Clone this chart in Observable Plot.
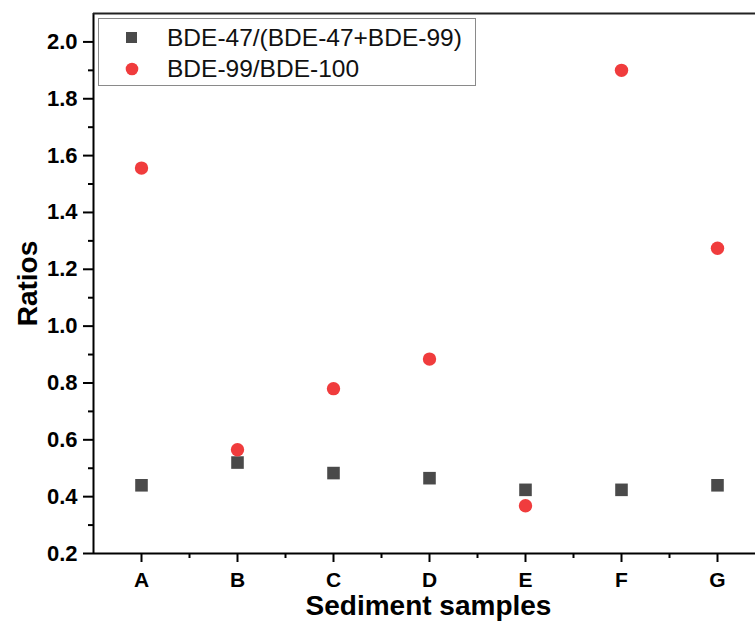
<!DOCTYPE html>
<html>
<head>
<meta charset="utf-8">
<script src="https://cdn.jsdelivr.net/npm/d3@7"></script>
<script src="https://cdn.jsdelivr.net/npm/@observablehq/plot@0.6"></script>
<style>
  body { margin: 0; background: #fff; }
  #wrap { position: relative; width: 755px; height: 628px; font-family: "Liberation Sans", Arial, sans-serif; }
  #legend { position: absolute; left: 98px; top: 18px; width: 376px; height: 66px; border: 1px solid #8a8a8a; background: #fff; }
  .row { position: absolute; left: 0; height: 30px; display: flex; align-items: center; font-size: 24.5px; color: #111; }
  .sym { width: 66px; display: flex; justify-content: center; align-items: center; }
</style>
</head>
<body>
<div id="wrap"></div>
<script>
const categories = ["A", "B", "C", "D", "E", "F", "G"];
const seriesNames = ["BDE-47/(BDE-47+BDE-99)", "BDE-99/BDE-100"];
const ratio47 = [0.44, 0.52, 0.483, 0.465, 0.424, 0.424, 0.44];
const ratio99 = [1.556, 0.565, 0.78, 0.884, 0.368, 1.90, 1.274];
const yTicks = [0.2, 0.4, 0.6, 0.8, 1.0, 1.2, 1.4, 1.6, 1.8, 2.0];
const yMinor = [0.3, 0.5, 0.7, 0.9, 1.1, 1.3, 1.5, 1.7, 1.9];
const xTicks = [1, 2, 3, 4, 5, 6, 7];
const xMinor = [1.5, 2.5, 3.5, 4.5, 5.5, 6.5];
const colors = ["#4a4a4a", "#f03c3d"];

const data47 = categories.map((c, i) => ({pos: i + 1, value: ratio47[i]}));
const data99 = categories.map((c, i) => ({pos: i + 1, value: ratio99[i]}));

const font = '"Liberation Sans", Arial, sans-serif';
const chart = Plot.plot({
  width: 755,
  height: 628,
  marginLeft: 93,
  marginRight: 0,
  marginTop: 13,
  marginBottom: 75,
  style: {fontFamily: font, color: "#000", background: "#fff", overflow: "visible"},
  x: {type: "linear", domain: [0.5, 7.5], range: [93, 765]},
  y: {domain: [0.2, 2.1]},
  marks: [
    Plot.axisY({ticks: yTicks, tickSize: 10, text: null, label: null, strokeWidth: 2}),
    Plot.axisY({ticks: yMinor, tickSize: 5, text: null, label: null, strokeWidth: 2}),
    Plot.axisX({ticks: xTicks, tickSize: 9, text: null, label: null, strokeWidth: 2}),
    Plot.axisX({ticks: xMinor, tickSize: 5, text: null, label: null, strokeWidth: 2}),
    Plot.text(yTicks, {x: () => 0.5, y: d => d, text: d => d3.format(".1f")(d), dx: -16, textAnchor: "end", fontSize: 22, fontWeight: "bold", fill: "#000"}),
    Plot.text(xTicks, {x: d => d, y: () => 0.2, text: d => categories[d - 1], dy: 27, fontSize: 21, fontWeight: "bold", fill: "#000"}),
    Plot.ruleX([0.5], {stroke: "#000", strokeWidth: 2}),
    Plot.ruleY([0.2], {stroke: "#000", strokeWidth: 2}),
    Plot.ruleY([2.1], {stroke: "#222", strokeWidth: 2}),
    Plot.dot(data47, {x: "pos", y: "value", symbol: "square", r: 7.1, fill: colors[0], stroke: "none"}),
    Plot.dot(data99, {x: "pos", y: "value", symbol: "circle", r: 6.7, fill: colors[1], stroke: "none"}),
    Plot.text(["Ratios"], {frameAnchor: "left", textAnchor: "middle", dx: -65, rotate: -90, fontSize: 28, fontWeight: "bold", fill: "#000"}),
    Plot.text(["Sediment samples"], {frameAnchor: "bottom", dx: 4, dy: 61, fontSize: 28, fontWeight: "bold", fill: "#000"})
  ]
});
const wrap = document.getElementById("wrap");
wrap.appendChild(chart);

const legend = document.createElement("div");
legend.id = "legend";
const shapes = [
  `<svg width="12" height="12"><rect width="11" height="11" fill="${colors[0]}"/></svg>`,
  `<svg width="14" height="14"><circle cx="7" cy="7" r="6.3" fill="${colors[1]}"/></svg>`
];
seriesNames.forEach((name, i) => {
  const row = document.createElement("div");
  row.className = "row";
  row.style.top = (4 + i * 31) + "px";
  row.innerHTML = `<div class="sym">${shapes[i]}</div><div style="margin-left:2px">${name}</div>`;
  legend.appendChild(row);
});
wrap.appendChild(legend);
</script>
</body>
</html>
